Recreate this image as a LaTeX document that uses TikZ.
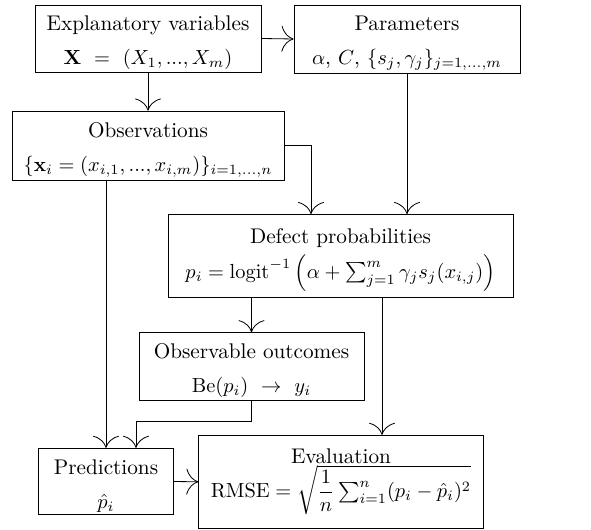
\documentclass[tikz,border=0pt]{standalone}
\usepackage{amsmath}
\usetikzlibrary{arrows.meta}
\newcommand{\hstrut}{\rule{0pt}{11.4pt}}
\begin{document}
\begin{tikzpicture}[x=0.49pt,y=-0.49pt,
  box/.style={draw, rectangle, align=center, inner sep=0pt},
  arr/.style={-{To[length=5.9pt,width=12.7pt]}},
  font=\fontsize{10.4pt}{16.7pt}\selectfont]
\useasboundingbox (0,0) rectangle (591,530);
\node[box, minimum width=110.74pt, minimum height=32.83pt] (expl) at (148,38.5)
  {\hstrut Explanatory variables\\ $\mathbf{X}\ =\ (X_1, ..., X_m)$};
\node[box, minimum width=110.74pt, minimum height=33.32pt] (param) at (407,39)
  {\hstrut Parameters\\ $\alpha$, $C$, $\{s_j, \gamma_j\}_{j=1,...,m}$};
\node[box, minimum width=133.28pt, minimum height=33.81pt] (obs) at (148,145.5)
  {\hstrut Observations\\ $\{\mathbf{x}_i = (x_{i,1}, ..., x_{i,m})\}_{i=1,...,n}$};
\node[box, minimum width=169.05pt, minimum height=40.67pt] (defect) at (340.5,256)
  {\hstrut Defect probabilities\\ $p_i = \mathrm{logit}^{-1}\left(\alpha + \sum_{j=1}^{m} \gamma_j s_j(x_{i,j})\right)$};
\node[box, minimum width=110.25pt, minimum height=32.98pt] (obsv) at (251.5,366.3)
  {\hstrut Observable outcomes\\ $\mathrm{Be}(p_i)\ \rightarrow\ y_i$};
\node[box, minimum width=65.81pt, minimum height=32.54pt] (pred) at (106,481.5)
  {\hstrut Predictions\\ $\hat{p}_i$};
\node[box, minimum width=139.31pt, minimum height=45.57pt] (eval) at (341,481.8)
  {Evaluation\\ $\mathrm{RMSE} = \sqrt{\dfrac{1}{n}\sum_{i=1}^{n}(p_i - \hat{p}_i)^2}$};
\coordinate (d1) at ([xshift=-14.46pt]defect.north);
\coordinate (o1) at ([xshift=-20.58pt]obs.south);
\coordinate (d3) at ([xshift=20.34pt]defect.south);
\coordinate (p2) at ([xshift=14.7pt]pred.north);
\draw[arr] (expl.east) -- (param.west);
\draw[arr] (expl.south) -- (obs.north);
\draw[arr] (obs.east) -| (d1);
\draw[arr] (param.south) -- (param.south |- defect.north);
\draw[arr] (o1) -- (o1 |- pred.north);
\draw[arr] (obsv.north |- defect.south) -- (obsv.north);
\draw[arr] (d3) -- (d3 |- eval.north);
\draw[arr] (obsv.south) -- ++(0,20.7) -| (p2);
\draw[arr] (pred.east) -- (eval.west);
\end{tikzpicture}
\end{document}
